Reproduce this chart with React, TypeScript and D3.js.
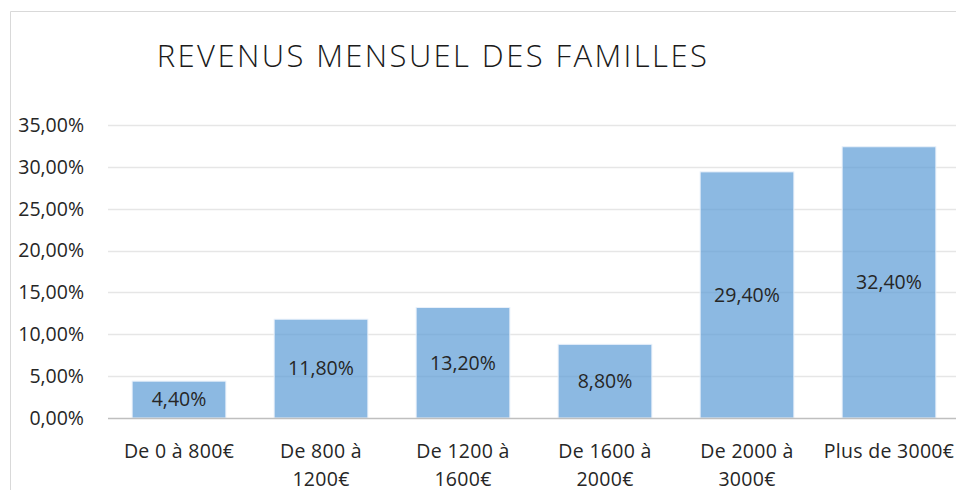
import React, { useEffect, useRef } from 'react';
import * as d3 from 'd3';

const categories = ['De 0 à 800€', 'De 800 à 1200€', 'De 1200 à 1600€', 'De 1600 à 2000€', 'De 2000 à 3000€', 'Plus de 3000€'];
const categoryLines = [['De 0 à 800€'], ['De 800 à', '1200€'], ['De 1200 à', '1600€'], ['De 1600 à', '2000€'], ['De 2000 à', '3000€'], ['Plus de 3000€']];
const values = [4.4, 11.8, 13.2, 8.8, 29.4, 32.4];
const yTicks = [0, 5, 10, 15, 20, 25, 30, 35];

const fmt = (v: number) => v.toFixed(2).replace('.', ',') + '%';

export default function App() {
  const svgRef = useRef<SVGSVGElement | null>(null);
  const width = 956;
  const height = 490;

  useEffect(() => {
    const svg = d3.select(svgRef.current);
    svg.selectAll('*').remove();
    const font = '"Open Sans", sans-serif';

    const x = d3.scaleBand().domain(categories).range([108, 960]).paddingInner(0.34).paddingOuter(0.17);
    const y = d3.scaleLinear().domain([0, 35]).range([418, 125]);

    // cadre
    svg.append('path')
      .attr('d', `M10.5,${height} V11.5 H${width}`)
      .attr('fill', 'none')
      .attr('stroke', '#d9d9d9')
      .attr('stroke-width', 1);

    // titre
    svg.append('text')
      .attr('x', 433)
      .attr('y', 67)
      .attr('text-anchor', 'middle')
      .attr('font-family', font)
      .attr('font-weight', 300)
      .attr('font-size', 31)
      .attr('letter-spacing', 2.4)
      .attr('fill', '#1a1a1a')
      .text('REVENUS MENSUEL DES FAMILLES');

    // grille
    svg.append('g')
      .selectAll('line')
      .data(yTicks.filter(t => t > 0))
      .join('line')
      .attr('x1', 108)
      .attr('x2', width)
      .attr('y1', d => Math.round(y(d)) + 0.5)
      .attr('y2', d => Math.round(y(d)) + 0.5)
      .attr('stroke', '#e6e6e6')
      .attr('stroke-width', 1.5);

    // barres
    svg.append('g')
      .selectAll('rect')
      .data(values)
      .join('rect')
      .attr('x', (d, i) => x(categories[i])!)
      .attr('width', x.bandwidth())
      .attr('y', d => y(d))
      .attr('height', d => y(0) - y(d))
      .attr('fill', '#5b9bd5')
      .attr('fill-opacity', 0.7)
      .attr('stroke', '#e8f0fa')
      .attr('stroke-width', 1);

    // axe x
    svg.append('line')
      .attr('x1', 108)
      .attr('x2', width)
      .attr('y1', 418.5)
      .attr('y2', 418.5)
      .attr('stroke', '#bfbfbf')
      .attr('stroke-width', 1.5);

    // étiquettes de l'axe y
    svg.append('g')
      .selectAll('text')
      .data(yTicks)
      .join('text')
      .attr('x', 84)
      .attr('y', d => y(d))
      .attr('dy', '0.35em')
      .attr('text-anchor', 'end')
      .attr('font-family', font)
      .attr('font-size', 19.5)
      .attr('fill', '#262626')
      .text(d => fmt(d));

    // étiquettes de données
    svg.append('g')
      .selectAll('text')
      .data(values)
      .join('text')
      .attr('x', (d, i) => x(categories[i])! + x.bandwidth() / 2)
      .attr('y', d => (y(d) + y(0)) / 2)
      .attr('dy', '0.35em')
      .attr('text-anchor', 'middle')
      .attr('font-family', font)
      .attr('font-size', 19.5)
      .attr('fill', '#262626')
      .text(d => fmt(d));

    // catégories
    const cat = svg.append('g')
      .selectAll('text')
      .data(categoryLines)
      .join('text')
      .attr('x', (d, i) => x(categories[i])! + x.bandwidth() / 2)
      .attr('y', 458)
      .attr('text-anchor', 'middle')
      .attr('font-family', font)
      .attr('font-size', 19.5)
      .attr('letter-spacing', 0.3)
      .attr('fill', '#262626');
    cat.selectAll('tspan')
      .data(d => d)
      .join('tspan')
      .attr('x', function () { return (this.parentNode as SVGTextElement).getAttribute('x'); })
      .attr('dy', (d, i) => (i === 0 ? 0 : 27.5))
      .text(d => d);
  }, []);

  return (
    <svg
      ref={svgRef}
      width={width}
      height={height}
      style={{ position: 'absolute', left: 0, top: 0, background: '#fff' }}
    />
  );
}
